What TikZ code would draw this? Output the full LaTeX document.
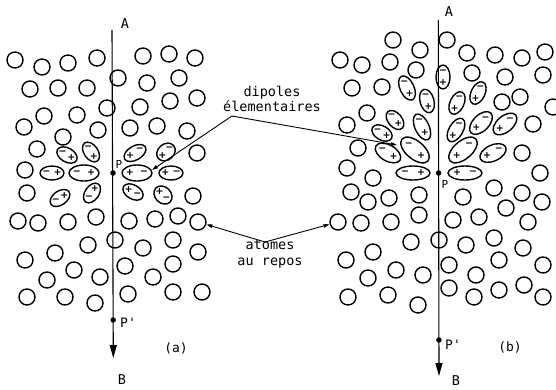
\documentclass[tikz,border=0pt]{standalone}
\usepackage{fontspec}
\setmainfont{DejaVu Sans}
\newfontfamily\lblfont{DejaVu Sans Mono}
\usetikzlibrary{arrows.meta}
\tikzset{
  atom/.style={circle, draw, line width=1.4pt, minimum size=16pt, inner sep=0pt},
  dipl/.style={draw, line width=1.4pt},
  sgn/.style={font=\fontsize{9.5}{9.5}\selectfont\bfseries, inner sep=0pt},
  lbl/.style={font=\lblfont\fontsize{13.5}{15.5}\selectfont, inner sep=0pt, align=center},
  smlbl/.style={font=\lblfont\fontsize{13}{14}\selectfont, inner sep=0pt},
  axisline/.style={line width=1.1pt, -{Triangle[length=13pt,width=7pt]}},
  leader/.style={line width=0.9pt, -{Triangle[length=6pt,width=3.5pt]}},
  pdot/.style={circle, fill, inner sep=0pt, minimum size=5.5pt}
}
% name, x, y, rotation, a, b, sign at -a, sign at +a
\newcommand\dipole[8]{%
  \begin{scope}[shift={(#2,#3)}, rotate=#4]
    \draw[dipl] (0,0) ellipse[x radius=#5pt, y radius=#6pt];
    \node[sgn] (#1a) at ({-0.47*#5},0) {#7};
    \node[sgn] (#1b) at ({0.47*#5},0) {#8};
  \end{scope}}
\begin{document}
\begin{tikzpicture}[x=1pt,y=-1pt]
\useasboundingbox (0,0) rectangle (556,389);
\clip (0,0) rectangle (556,389);

% ---------- left panel (a) ----------
\coordinate (LA) at (112,30);
\coordinate (LB) at (113.3,358);
\draw[axisline] (LA) -- (LB);
\node[lbl] (lblLA) at (125,24) {A};
\node[lbl] (lblLB) at (122,380) {B};
\node[pdot] (LP) at (113,173) {};
\node[smlbl, font=\lblfont\fontsize{11}{12}\selectfont] (lblLP) at (119,164) {P};
\node[pdot] (LPp) at (113.2,320) {};
\node[smlbl] (lblLPp) at (128,323) {P'};
\node[smlbl] (lblLa) at (176,348) {(a)};

\foreach \x/\y [count=\i] in {15/60,42/67,68/63,97/58,143/56,169/54,195/58,
  30/89,58/88,87/88,118/78,147/83,179/78,
  107/108,140/107,170/101,197/98,44/116,77/115,
  24/127,63/137,98/130,130/128,157/126,187/131,
  37/149,197/153,25/170,27/193,193/196,
  18/221,38/223,68/222,96/217,129/221,155/219,178/216,
  115/240,88/245,143/248,173/240,198/252,55/253,25/260,
  125/266,173/264,74/270,100/277,153/277,47/280,
  27/297,65/297,95/303,128/294,173/292,202/292}
  \node[atom] (aL\i) at (\x,\y) {};
\node[atom] (atomL) at (198,222) {};

\dipole{dL1}{67}{155}{-30}{11}{7}{−}{+}
\dipole{dL2}{91}{152}{-55}{11}{7}{−}{+}
\dipole{dL3}{135}{153}{30}{12}{7}{+}{−}
\dipole{dL4}{166}{152}{40}{10}{8}{+}{−}
\dipole{dL5}{52}{173}{0}{12}{7}{−}{+}
\dipole{dL6}{84}{173}{0}{15}{8}{−}{+}
\dipole{dL7}{137}{173}{0}{15}{8}{+}{−}
\dipole{dL8}{171}{173}{0}{12}{7}{+}{−}
\dipole{dL9}{60}{198}{35}{11}{7}{−}{+}
\dipole{dL10}{92}{193}{55}{11}{7}{−}{+}
\dipole{dL11}{133}{192}{-30}{11}{7}{+}{−}
\dipole{dL12}{163}{195}{-45}{10}{8}{+}{−}

% ---------- right panel (b) ----------
\coordinate (RA) at (438.3,20);
\coordinate (RB) at (439,376);
\draw[axisline] (RA) -- (RB);
\node[lbl] (lblRA) at (449,12) {A};
\node[lbl] (lblRB) at (456,381) {B};
\node[pdot] (RP) at (438.6,173) {};
\node[smlbl, font=\lblfont\fontsize{11}{12}\selectfont] (lblRP) at (445,184) {P};
\node[pdot] (RPp) at (438.9,340) {};
\node[smlbl] (lblRPp) at (453,345) {P'};
\node[smlbl] (lblRb) at (510,347) {(b)};

\foreach \x/\y [count=\i] in {393/40,447/40,420/50,467/53,495/55,522/58,545/52,
  340/60,362/65,390/62,416/70,472/73,505/77,543/75,
  352/88,382/87,502/102,520/97,553/107,
  367/113,347/125,533/124,
  358/148,522/153,
  347/168,373/178,540/173,
  351/192,368/202,389/198,419/195,463/197,494/188,522/193,542/202,
  361/223,391/222,419/215,453/220,479/217,506/208,528/222,
  411/242,439/240,466/245,494/238,523/248,373/252,346/260,449/265,476/275,
  499/260,543/265,396/270,423/275,368/278,449/288,474/297,499/290,524/285,
  543/297,348/297,388/295,418/305}
  \node[atom] (aR\i) at (\x,\y) {};
\node[atom] (atomR) at (338,222) {};

\dipole{dR1}{443}{77}{-90}{12}{7}{−}{+}
\dipole{dR2}{407}{88}{-65}{13}{7}{−}{+}
\dipole{dR3}{427}{101}{-75}{12}{7}{−}{+}
\dipole{dR4}{457}{103}{65}{12}{7}{+}{−}
\dipole{dR5}{478}{93}{65}{12}{7}{+}{−}
\dipole{dR6}{395}{120}{-50}{11}{7}{−}{+}
\dipole{dR7}{422}{127}{-65}{14}{7}{−}{+}
\dipole{dR8}{456}{130}{60}{13}{7}{+}{−}
\dipole{dR9}{481}{123}{45}{14}{8}{+}{−}
\dipole{dR10}{505}{124}{40}{14}{8}{+}{−}
\dipole{dR11}{382}{133}{-30}{11}{7}{−}{+}
\dipole{dR12}{388}{153}{-30}{14}{8}{−}{+}
\dipole{dR13}{415}{150}{-40}{17}{9}{−}{+}
\dipole{dR14}{463}{150}{40}{17}{9}{+}{−}
\dipole{dR15}{493}{153}{25}{14}{8}{+}{−}
\dipole{dR16}{413}{173}{0}{17}{7}{−}{+}
\dipole{dR17}{465}{173}{0}{17}{7}{+}{−}

% ---------- labels ----------
\node[lbl] (dip) at (272,99) {dipoles\\élementaires};
\coordinate (dipS) at (232,116);
\coordinate (tipL) at (152,170);
\coordinate (tipR) at (397,145);
\draw[leader] (dipS) -- (tipL);
\draw[leader] (dipS) -- (tipR);

\node[lbl] (ato) at (270,254) {atomes\\au repos};
\coordinate (atoS) at (265,242);
\draw[leader] (atoS) -- (atomL);
\draw[leader] (atoS) -- (atomR);
\end{tikzpicture}
\end{document}
